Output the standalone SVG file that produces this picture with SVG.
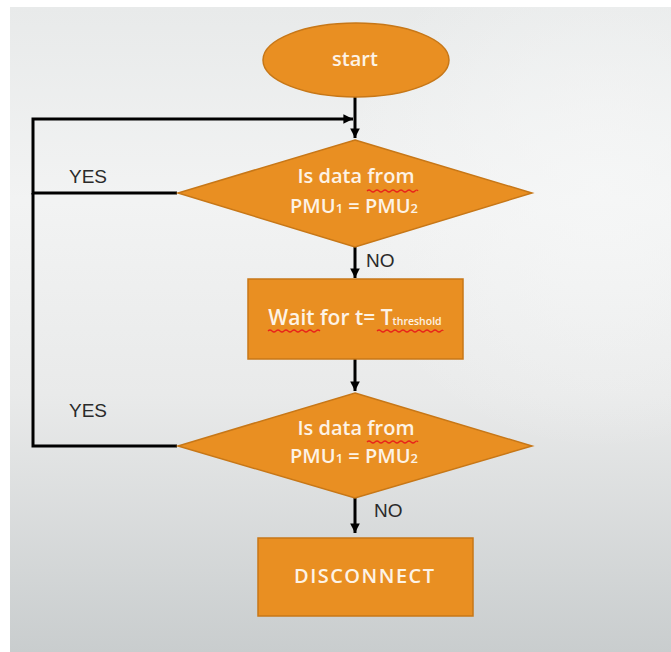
<svg xmlns="http://www.w3.org/2000/svg" width="671" height="652" viewBox="0 0 671 652">
<defs>
<linearGradient id="bg" x1="0" y1="0" x2="0" y2="1">
<stop offset="0" stop-color="#e8eaea"/>
<stop offset="0.3" stop-color="#f2f3f3"/>
<stop offset="0.6" stop-color="#e9eaea"/>
<stop offset="1" stop-color="#c9cdce"/>
</linearGradient>
<radialGradient id="glow" cx="600" cy="190" r="260" gradientUnits="userSpaceOnUse">
<stop offset="0" stop-color="#f6f7f7" stop-opacity="0.8"/>
<stop offset="1" stop-color="#f6f7f7" stop-opacity="0"/>
</radialGradient>
<marker id="arr" viewBox="0 0 10 10" refX="10" refY="5" markerWidth="3.2" markerHeight="3.2" orient="auto" markerUnits="strokeWidth">
<path d="M0,0 L10,5 L0,10 Z" fill="#000"/>
</marker>
</defs>
<style>
.shape{fill:#e98f22;stroke:#c77717;stroke-width:1.5}
.wt{fill:#fdf3e6;font-family:"Open Sans","Liberation Sans",sans-serif;font-size:20px;font-weight:600;text-anchor:middle}
.lbl{fill:#2a2a2a;font-family:"Liberation Sans","Open Sans",sans-serif;font-size:19px}
.ln{fill:none;stroke:#000;stroke-width:3}
.sq{fill:none;stroke:#e8231a;stroke-width:1.2}
</style>
<rect x="0" y="0" width="671" height="652" fill="#ffffff"/>
<rect x="10" y="7" width="661" height="645" fill="url(#bg)"/>
<rect x="10" y="7" width="661" height="645" fill="url(#glow)"/>

<g id="connectors">
<path class="ln" d="M355,97 V138" marker-end="url(#arr)"/>
<path class="ln" d="M177,193 H33 V119 H353" marker-end="url(#arr)"/>
<path class="ln" d="M177,446 H33 V193"/>
<path class="ln" d="M355,247 V278" marker-end="url(#arr)"/>
<path class="ln" d="M355,359 V391" marker-end="url(#arr)"/>
<path class="ln" d="M355,498 V533" marker-end="url(#arr)"/>
<text class="lbl" x="69" y="183">YES</text>
<text class="lbl" x="69" y="417">YES</text>
<text class="lbl" x="366" y="267">NO</text>
<text class="lbl" x="374" y="517">NO</text>
</g>

<g id="start">
<ellipse class="shape" cx="356" cy="60" rx="93" ry="37"/>
<text class="wt" x="355" y="66">start</text>
</g>

<g id="decision1">
<polygon class="shape" points="355,140 532,193 355,247 178,193"/>
<text class="wt" x="356" y="183">Is data from</text>
<text class="wt" x="354" y="213">PMU<tspan font-size="13">1</tspan> = PMU<tspan font-size="13">2</tspan></text>
<path class="sq" d="M367,191 q2,-2 4,0 t4,0 t4,0 t4,0 t4,0 t4,0 t4,0 t4,0 t4,0 t4,0 t4,0 t4,0 t3,0"/>
</g>

<g id="wait">
<rect class="shape" x="248" y="279" width="215" height="80"/>
<text class="wt" x="355" y="325"><tspan font-size="21">Wait for t= T</tspan><tspan font-size="10.5">threshold</tspan></text>
<path class="sq" d="M268,331 q2,-2 4,0 t4,0 t4,0 t4,0 t4,0 t4,0 t4,0 t4,0 t4,0 t4,0 t4,0 t4,0 t4,0"/>
<path class="sq" d="M377,331 q2,-2 4,0 t4,0 t4,0 t4,0 t4,0 t4,0 t4,0 t4,0 t4,0 t4,0 t4,0 t4,0 t4,0 t4,0 t4,0 t4,0 t2,0"/>
</g>

<g id="decision2">
<polygon class="shape" points="355,393 532,446 355,498 178,446"/>
<text class="wt" x="356" y="435">Is data from</text>
<text class="wt" x="354" y="463">PMU<tspan font-size="13">1</tspan> = PMU<tspan font-size="13">2</tspan></text>
<path class="sq" d="M367,442 q2,-2 4,0 t4,0 t4,0 t4,0 t4,0 t4,0 t4,0 t4,0 t4,0 t4,0 t4,0 t4,0 t3,0"/>
</g>

<g id="disconnect">
<rect class="shape" x="258" y="538" width="215" height="78"/>
<text class="wt" x="364" y="583" font-size="21" textLength="140" lengthAdjust="spacing">DISCONNECT</text>
</g>
</svg>
